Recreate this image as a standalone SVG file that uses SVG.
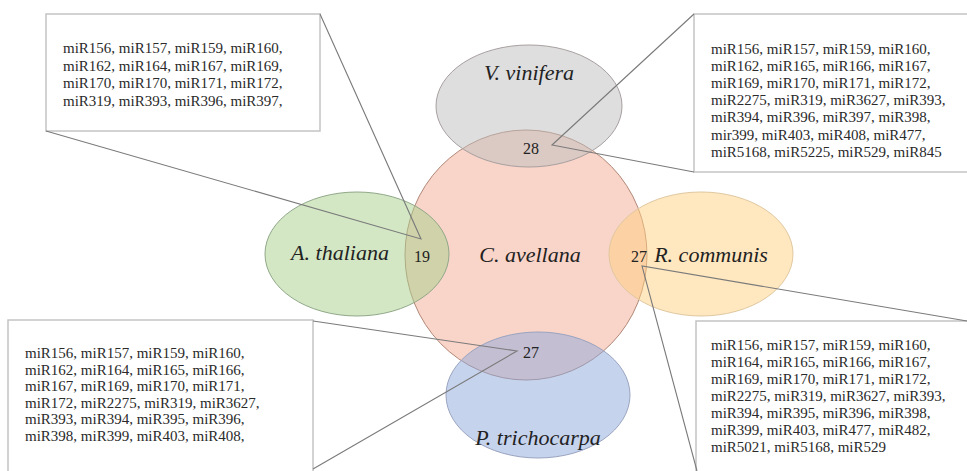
<svg xmlns="http://www.w3.org/2000/svg" width="967" height="471" viewBox="0 0 967 471">
<style>
.box{fill:#fff;stroke:#c4c4c4;stroke-width:1.5}
.bt{font-family:"Liberation Serif","Times New Roman",serif;font-size:15px;fill:#2a2a2a}
.sp{font-family:"Liberation Serif","Times New Roman",serif;font-size:22px;font-style:italic;fill:#222;text-anchor:middle}
.num{font-family:"Liberation Serif","Times New Roman",serif;font-size:16px;fill:#222;text-anchor:middle}
.con{stroke:#7a7a7a;stroke-width:1.1;fill:none}
</style>
<rect width="967" height="471" fill="#fff"/>
<g id="box-top-left">
<rect class="box" x="46" y="14" width="274" height="117"/>
<text class="bt" x="63" y="53"><tspan x="63">miR156, miR157, miR159, miR160,</tspan><tspan x="63" dy="17.6">miR162, miR164, miR167, miR169,</tspan><tspan x="63" dy="17.6">miR170, miR170, miR171, miR172,</tspan><tspan x="63" dy="17.6">miR319, miR393, miR396, miR397,</tspan></text>
</g>
<g id="box-top-right">
<rect class="box" x="694" y="14" width="280" height="158"/>
<text class="bt" x="711" y="53.5"><tspan x="711">miR156, miR157, miR159, miR160,</tspan><tspan x="711" dy="17.2">miR162, miR165, miR166, miR167,</tspan><tspan x="711" dy="17.2">miR169, miR170, miR171, miR172,</tspan><tspan x="711" dy="17.2">miR2275, miR319, miR3627, miR393,</tspan><tspan x="711" dy="17.2">miR394, miR396, miR397, miR398,</tspan><tspan x="711" dy="17.2">mir399, miR403, miR408, miR477,</tspan><tspan x="711" dy="17.2">miR5168, miR5225, miR529, miR845</tspan></text>
</g>
<g id="box-bottom-left">
<rect class="box" x="8" y="320" width="305" height="160"/>
<text class="bt" x="25" y="358"><tspan x="25">miR156, miR157, miR159, miR160,</tspan><tspan x="25" dy="16.5">miR162, miR164, miR165, miR166,</tspan><tspan x="25" dy="16.5">miR167, miR169, miR170, miR171,</tspan><tspan x="25" dy="16.5">miR172, miR2275, miR319, miR3627,</tspan><tspan x="25" dy="16.5">miR393, miR394, miR395, miR396,</tspan><tspan x="25" dy="16.5">miR398, miR399, miR403, miR408,</tspan></text>
</g>
<g id="box-bottom-right">
<rect class="box" x="696" y="321" width="280" height="160"/>
<text class="bt" x="711" y="349.5"><tspan x="711">miR156, miR157, miR159, miR160,</tspan><tspan x="711" dy="17">miR164, miR165, miR166, miR167,</tspan><tspan x="711" dy="17">miR169, miR170, miR171, miR172,</tspan><tspan x="711" dy="17">miR2275, miR319, miR3627, miR393,</tspan><tspan x="711" dy="17">miR394, miR395, miR396, miR398,</tspan><tspan x="711" dy="17">miR399, miR403, miR477, miR482,</tspan><tspan x="711" dy="17">miR5021, miR5168, miR529</tspan></text>
</g>
<g id="c-avellana">
<ellipse cx="526" cy="255" rx="121" ry="125" fill="#f4b09a" fill-opacity="0.55" stroke="#b08878" stroke-width="1"/>
</g>
<g id="a-thaliana">
<ellipse cx="357" cy="254" rx="92" ry="62" fill="#a8d08c" fill-opacity="0.5" stroke="#90a888" stroke-width="1"/>
</g>
<g id="v-vinifera">
<ellipse cx="529" cy="106" rx="93" ry="61" fill="#bdbdbd" fill-opacity="0.5" stroke="#a8a0a0" stroke-width="1"/>
</g>
<g id="r-communis">
<ellipse cx="701" cy="254" rx="92" ry="62" fill="#ffcf80" fill-opacity="0.5" stroke="#e0c8a0" stroke-width="1"/>
</g>
<g id="p-trichocarpa">
<ellipse cx="538" cy="395" rx="92" ry="63" fill="#8ea8dc" fill-opacity="0.5" stroke="#9aa4c0" stroke-width="1"/>
</g>
<g id="labels">
<text class="sp" x="340" y="260">A. thaliana</text>
<text class="sp" x="530" y="262">C. avellana</text>
<text class="sp" x="529" y="80">V. vinifera</text>
<text class="sp" x="711" y="262">R. communis</text>
<text class="sp" x="538" y="445">P. trichocarpa</text>
<text class="num" x="422" y="262">19</text>
<text class="num" x="531" y="154">28</text>
<text class="num" x="531" y="358">27</text>
<text class="num" x="639" y="262">27</text>
</g>
<g id="connectors">
<polyline class="con" points="320,14 421,239 46,131"/>
<polyline class="con" points="694,14 552,145 694,172"/>
<polyline class="con" points="313,321 517,351 313,469"/>
<polyline class="con" points="967,321 642,266 697,471"/>
</g>
</svg>
